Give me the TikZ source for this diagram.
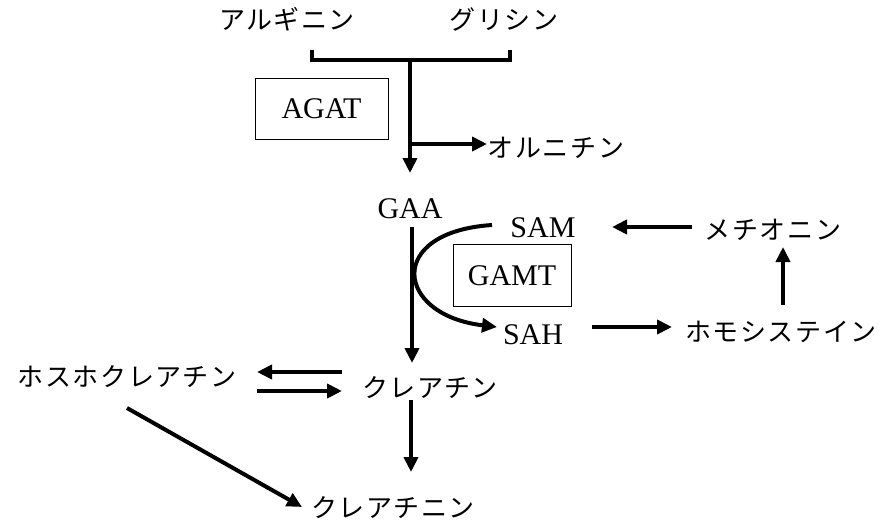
\documentclass[tikz,border=0pt]{standalone}
\usepackage{fontspec}
\setmainfont{Liberation Serif}
\newfontfamily\jpfont[LetterSpace=6]{Noto Sans CJK JP}
\usetikzlibrary{calc,arrows.meta}
\tikzset{
	arr/.style={line width=4pt, -{Triangle[length=15pt,width=14pt]}},
	jp/.style={inner sep=0pt, text height=20pt, text depth=0pt, font=\jpfont\fontsize{26pt}{30pt}\selectfont},
	lat/.style={inner sep=0pt, text height=20pt, text depth=0pt, font=\fontsize{30pt}{34pt}\selectfont},
	enzyme/.style={lat, draw, line width=1pt}
}

\begin{document}
\begin{tikzpicture}[x=1pt, y=-1pt]
			%%%%% START %%%%%
			\useasboundingbox (0, 0) rectangle (882, 519);
			
			\node[jp] (arg) at (287, 20) {アルギニン};
			\node[jp] (gly) at (504, 20) {グリシン};
			\node[enzyme, minimum width=133pt, minimum height=61pt] (agat) at (321.5, 108.5) {AGAT};
			\node[jp] (orn) at (556, 147) {オルニチン};
			\node[lat] (gaa) at (410, 208) {GAA};
			
			\node[lat] (sam) at (543, 227) {SAM};
			\node[enzyme, minimum width=118pt, minimum height=62pt] (gamt) at (512, 275) {GAMT};
			\node[lat] (sah) at (533, 334) {SAH};
			\node[jp] (met) at (773, 229) {メチオニン};
			\node[jp] (hcy) at (781, 331) {ホモシステイン};
			
			\node[jp] (pcr) at (127, 376) {ホスホクレアチン};
			\node[jp] (cr) at (430, 387) {クレアチン};
			\node[jp] (crn) at (393, 507) {クレアチニン};
			
			% arginine + glycine
			\coordinate (bl) at (312, 50);
			\coordinate (br) at (510, 50);
			\coordinate (bj) at (410, 60);
			\coordinate (bo) at (410, 144);
			\draw[line width=4pt] (bl) |- (bj) -| (br);
			\draw[arr] (bj) -- ($(gaa)+(0, -35)$);
			\draw[arr] (bo) -- ($(orn)+(-69, -3)$);
			
			\draw[arr] ($(gaa)+(2, 19)$) -- ($(cr)+(-18, -24)$);
			\draw[arr] ($(sam)+(-51, -2)$) .. controls +(-107, 7) and +(-102, -12) .. ($(sah)+(-36, -7)$);
			
			% methionine cycle
			\draw[arr] ($(met)+(-81, -2)$) -- ($(sam)+(69, 0)$);
			\draw[arr] ($(sah)+(59, -7)$) -- ($(hcy)+(-109, -4)$);
			\draw[arr] ($(hcy)+(2, -26)$) -- ($(met)+(10, 18)$);
			
			\draw[arr] ($(cr)+(-88, -15)$) -- ($(pcr)+(130, -4)$);
			\draw[arr] ($(pcr)+(130, 15)$) -- ($(cr)+(-88, 4)$);
			\draw[arr] ($(cr)+(-19, 13)$) -- ($(crn)+(18, -35)$);
			\draw[arr] ($(pcr)+(0, 32)$) -- ($(crn)+(-91, 0)$);
			
			%%%%% END %%%%%
\end{tikzpicture}
\end{document}
